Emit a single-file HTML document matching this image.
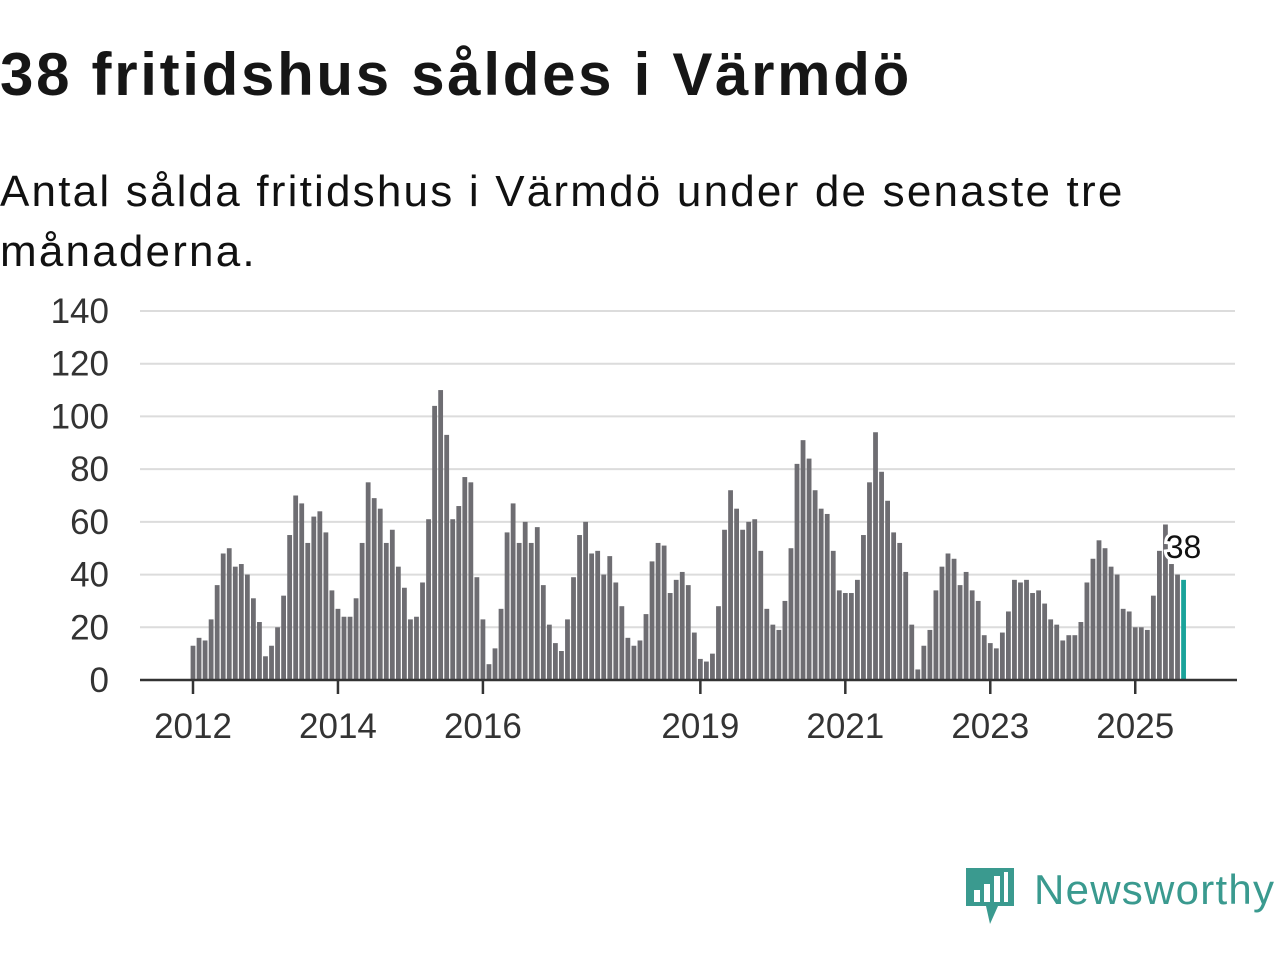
<!DOCTYPE html>
<html><head><meta charset="utf-8"><style>
body{margin:0;width:1280px;height:960px;background:#fff;font-family:"Liberation Sans","DejaVu Sans",sans-serif;color:#111;position:relative;overflow:hidden}
#title{position:absolute;left:0;top:40px;font-size:60px;font-weight:bold;letter-spacing:2.7px;color:#161616}
#sub{position:absolute;left:0;top:162px;font-size:44px;line-height:60px;width:1180px;letter-spacing:2.2px}
#logo{position:absolute;left:964px;top:864px}
</style></head><body>
<div id="title">38 fritidshus såldes i Värmdö</div>
<div id="sub">Antal sålda fritidshus i Värmdö under de senaste tre månaderna.</div>
<svg id="chart" width="1280" height="960" style="position:absolute;left:0;top:0"></svg>
<div id="logo">
<svg width="316" height="64">
<path d="M2 4 h48 v38 l-16 0 l-8 18 l-4 -18 h-20z" fill="#3a9a8f"/>
<rect x="10" y="26" width="6" height="12" fill="#fff"/><rect x="20" y="20" width="6" height="18" fill="#fff"/><rect x="30" y="12" width="6" height="26" fill="#fff"/><rect x="40" y="8" width="4" height="30" fill="#fff"/>
<text x="70" y="40" font-size="42" fill="#3a9a8f" font-family="Liberation Sans, sans-serif" textLength="240">Newsworthy</text>
</svg></div>
<script>
const values=[13,16,15,23,36,48,50,43,44,40,31,22,
9,13,20,32,55,70,67,52,62,64,56,34,
27,24,24,31,52,75,69,65,52,57,43,35,
23,24,37,61,104,110,93,61,66,77,75,39,
23,6,12,27,56,67,52,60,52,58,36,21,
14,11,23,39,55,60,48,49,40,47,37,28,
16,13,15,25,45,52,51,33,38,41,36,18,
8,7,10,28,57,72,65,57,60,61,49,27,
21,19,30,50,82,91,84,72,65,63,49,34,
33,33,38,55,75,94,79,68,56,52,41,21,
4,13,19,34,43,48,46,36,41,34,30,17,
14,12,18,26,38,37,38,33,34,29,23,21,
15,17,17,22,37,46,53,50,43,40,27,26,
20,20,19,32,49,59,44,40,38];
const startYear=2012;
const yTicks=[0,20,40,60,80,100,120,140];
const xTickYears=[2012,2014,2016,2019,2021,2023,2025];
const NS="http://www.w3.org/2000/svg";
const svg=document.getElementById('chart');
const x0=193,monthW=6.04,yBase=680,pxPerUnit=(680-311)/140;
const x=i=>x0+i*monthW;
const y=v=>yBase-v*pxPerUnit;
function mk(t,a){const e=document.createElementNS(NS,t);for(const k in a)e.setAttribute(k,a[k]);svg.appendChild(e);return e;}
yTicks.forEach(t=>{
  if(t>0){const g=mk('line',{x1:140,x2:1235,y1:y(t),y2:y(t),stroke:'#dcdcdc','stroke-width':2});
  
  }
  const l=mk('text',{x:109,y:y(t)+12,'text-anchor':'end','font-size':35,fill:'#333'});l.textContent=t;
  
  
});
values.forEach((v,i)=>{
  const last=i===values.length-1;
  const r=mk('rect',{x:x(i)-2.4,y:y(v),width:4.8,height:v*pxPerUnit,fill:last?'#1aa39a':'#6e6d72'});
  
  
});
const ax=mk('line',{x1:140,x2:1237,y1:yBase,y2:yBase,stroke:'#333','stroke-width':2.5});


xTickYears.forEach(yr=>{
  const xi=x((yr-startYear)*12);
  const tk=mk('line',{x1:xi,x2:xi,y1:yBase,y2:yBase+14,stroke:'#333','stroke-width':2.5});
  
  
  const l=mk('text',{x:xi,y:738,'text-anchor':'middle','font-size':35,fill:'#333'});l.textContent=yr;
  
  
});
const li=values.length-1;
const lab=mk('text',{x:x(li),y:y(values[li])-22,'text-anchor':'middle','font-size':32,fill:'#111',stroke:'#fff','stroke-width':6,'paint-order':'stroke'});
lab.textContent=values[li];


</script>
</body></html>
